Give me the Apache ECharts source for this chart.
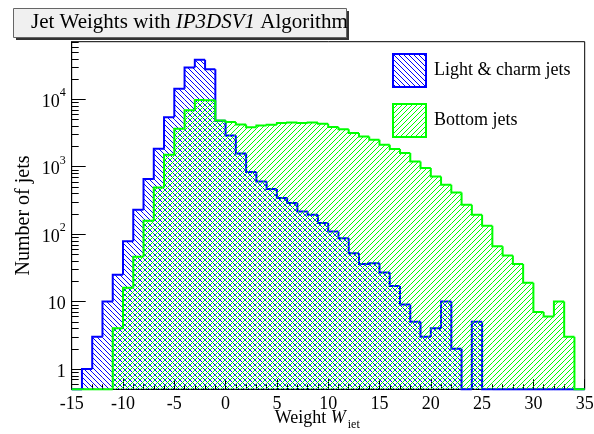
<!DOCTYPE html>
<html><head><meta charset="utf-8">
<script src="https://cdn.jsdelivr.net/npm/echarts@6/dist/echarts.min.js"></script>
<style>html,body{margin:0;padding:0;background:#fff}#c{width:594px;height:434px}</style>
</head><body><div id="c"></div>
<script>
// ---- data ----
const binLow = [-15,-14,-13,-12,-11,-10,-9,-8,-7,-6,-5,-4,-3,-2,-1,0,1,2,3,4,5,6,7,8,9,10,11,12,13,14,15,16,17,18,19,20,21,22,23,24,25,26,27,28,29,30,31,32,33,34];
const binHigh = [-14,-13,-12,-11,-10,-9,-8,-7,-6,-5,-4,-3,-2,-1,0,1,2,3,4,5,6,7,8,9,10,11,12,13,14,15,16,17,18,19,20,21,22,23,24,25,26,27,28,29,30,31,32,33,34,35];
const lightCharmJets = [0,1,3,10,25,78,229,653,1836,5410,14200,29400,38200,27800,4770,2900,1560,830,600,464,341,288,216,193,146,109,87,52,36,37,27,17,9,5,3,4,10,2,0,5,0,0,0,0,0,0,0,0,0,0];
const bottomJets = [0,0,0,0,4,16,46,157,490,1500,3650,6850,9700,9600,4820,4580,4200,3830,4060,4160,4410,4500,4410,4500,4300,3850,3590,3140,2790,2500,2100,1816,1585,1190,950,713,537,413,272,193,133,66,48,36,19,7,6,10,3,0];
const seriesNames = ['Light & charm jets', 'Bottom jets'];
const xTickLabels = [-15,-10,-5,0,5,10,15,20,25,30,35];
const yMajorTicks = [1,10,100,1000,10000];
const yMinorTicks = [0.6,0.7,0.8,0.9,2,3,4,5,6,7,8,9,20,30,40,50,60,70,80,90,200,300,400,500,600,700,800,900,2000,3000,4000,5000,6000,7000,8000,9000,20000,30000,40000,50000,60000,70000];

// ---- style ----
const SERIF = '"Liberation Serif","DejaVu Serif",serif';
const BLUE = '#0000ff', GREEN = '#00ff00';
const X_MIN = -15, X_MAX = 35, Y_MIN = 0.5, Y_MAX = 71000;

function hatch(color, rising, p) {
  const c = document.createElement('canvas');
  c.width = p; c.height = p;
  const g = c.getContext('2d');
  g.fillStyle = color;
  for (let i = 0; i < p; i++) g.fillRect(i, rising ? p - 1 - i : i, 1, 1);
  return { image: c, repeat: 'repeat' };
}
const bluePat = hatch(BLUE, false, 5);
const greenPat = hatch(GREEN, true, 5);

function histRender(values, lineColor, pat) {
  return function (params, api) {
    const i = params.dataIndex;
    const x0 = api.value(0), x1 = api.value(1);
    const v = Math.max(api.value(2), Y_MIN);
    const pv = i > 0 ? Math.max(values[i - 1], Y_MIN) : Y_MIN;
    const pB = api.coord([x0, Y_MIN]);
    const pT = api.coord([x1, v]);
    const pP = api.coord([x0, pv]);
    const ch = [];
    if (pB[1] - pT[1] > 0.5) {
      ch.push({ type: 'rect', shape: { x: pB[0], y: pT[1], width: pT[0] - pB[0], height: pB[1] - pT[1] }, style: { fill: pat } });
    }
    const pts = [[pB[0], pP[1]], [pB[0], pT[1]], [pT[0], pT[1]]];
    if (i === values.length - 1) pts.push([pT[0], pB[1]]);
    ch.push({ type: 'polyline', shape: { points: pts }, style: { stroke: lineColor, lineWidth: 2, fill: null, lineJoin: 'miter' } });
    return { type: 'group', children: ch };
  };
}

const chart = echarts.init(document.getElementById('c'), null, { renderer: 'canvas' });
chart.setOption({
  animation: false,
  backgroundColor: '#fff',
  title: {
    text: '{n|Jet Weights with }{i|IP3DSV1}{n| Algorithm}',
    left: 31, top: 12, z: 10, padding: 0,
    textStyle: { fontWeight: 'normal', rich: {
      n: { fontFamily: SERIF, fontSize: 21, color: '#000', fontWeight: 'normal' },
      i: { fontFamily: SERIF, fontSize: 21, color: '#000', fontStyle: 'italic', fontWeight: 'normal' }
    } }
  },
  graphic: [
    { type: 'rect', z: 1, shape: { x: 16, y: 11, width: 333, height: 29 }, style: { fill: '#333' } },
    { type: 'rect', z: 2, shape: { x: 13.5, y: 8.5, width: 333, height: 29 }, style: { fill: '#f0f0f0', stroke: '#666', lineWidth: 1 } }
  ],
  legend: {
    orient: 'vertical', left: 392, top: 53, padding: 0, itemWidth: 33, itemHeight: 33, itemGap: 15,
    selectedMode: false,
    textStyle: { fontFamily: SERIF, fontSize: 18, color: '#000', padding: [0, 0, 0, 3] },
    data: [
      { name: seriesNames[0], icon: 'rect', itemStyle: { color: bluePat, borderColor: BLUE, borderWidth: 2 } },
      { name: seriesNames[1], icon: 'rect', itemStyle: { color: greenPat, borderColor: GREEN, borderWidth: 2 } }
    ]
  },
  grid: { left: 71.7, right: 9.3, top: 41.7, bottom: 44.7, show: true, borderColor: '#000', borderWidth: 1, backgroundColor: 'transparent', outerBoundsMode: 'none' },
  xAxis: {
    type: 'value', min: X_MIN, max: X_MAX, interval: 5,
    axisLine: { show: true, onZero: false, lineStyle: { color: '#000', width: 1 } },
    axisTick: { show: true, inside: true, length: 10, lineStyle: { color: '#000' } },
    minorTick: { show: true, splitNumber: 5, length: 5, lineStyle: { color: '#000' } },
    splitLine: { show: false },
    axisLabel: { margin: 6, fontFamily: SERIF, fontSize: 18, color: '#000',
      formatter: v => (xTickLabels.indexOf(v) >= 0 ? String(v) : '') },
    name: '{a|Weight }{w|W}{s|iet}',
    nameLocation: 'middle', nameGap: 18, nameMoveOverlap: false,
    nameTextStyle: { padding: [0, 22, 0, 0], rich: {
      a: { fontFamily: SERIF, fontSize: 18, color: '#000', lineHeight: 20, verticalAlign: 'bottom' },
      w: { fontFamily: SERIF, fontSize: 18, color: '#000', fontStyle: 'italic', lineHeight: 20, verticalAlign: 'bottom' },
      s: { fontFamily: SERIF, fontSize: 12, color: '#000', lineHeight: 12, verticalAlign: 'bottom', padding: [0, 0, -4, 2] }
    } }
  },
  yAxis: {
    type: 'log', logBase: 10, min: Y_MIN, max: Y_MAX,
    axisLine: { show: true, onZero: false, lineStyle: { color: '#000', width: 1 } },
    axisTick: { show: true, inside: true, length: 14, lineStyle: { color: '#000' } },
    splitLine: { show: false },
    axisLabel: { margin: 6, showMinLabel: false, showMaxLabel: false,
      formatter: function (v) {
        const e = Math.round(Math.log10(v));
        if (Math.abs(Math.log10(v) - e) > 1e-6 || yMajorTicks.indexOf(Math.pow(10, e)) < 0) return '';
        if (e === 0) return '{b|1}';
        if (e === 1) return '{b|10}';
        return '{b|10}{s|' + e + '}';
      },
      rich: {
        b: { fontFamily: SERIF, fontSize: 18, color: '#000', lineHeight: 24, verticalAlign: 'bottom' },
        s: { fontFamily: SERIF, fontSize: 12, color: '#000', lineHeight: 12, verticalAlign: 'top' }
      }
    },
    name: 'Number of jets', nameLocation: 'middle', nameGap: 38, nameRotate: 90, nameMoveOverlap: false,
    nameTextStyle: { fontFamily: SERIF, fontSize: 20, color: '#000' }
  },
  series: [
    {
      name: seriesNames[0], type: 'custom', coordinateSystem: 'cartesian2d', clip: false,
      itemStyle: { color: bluePat, borderColor: BLUE, borderWidth: 2 },
      encode: { x: [0, 1], y: 2 },
      data: binLow.map((b, i) => [b, binHigh[i], lightCharmJets[i]]),
      renderItem: histRender(lightCharmJets, BLUE, bluePat)
    },
    {
      name: seriesNames[1], type: 'custom', coordinateSystem: 'cartesian2d', clip: false,
      itemStyle: { color: greenPat, borderColor: GREEN, borderWidth: 2 },
      encode: { x: [0, 1], y: 2 },
      data: binLow.map((b, i) => [b, binHigh[i], bottomJets[i]]),
      renderItem: histRender(bottomJets, GREEN, greenPat)
    },
    {
      name: 'minor', type: 'custom', coordinateSystem: 'cartesian2d', silent: true,
      encode: { x: 0, y: 1 },
      data: yMinorTicks.map(v => [X_MIN, v]),
      renderItem: function (params, api) {
        const p = api.coord([api.value(0), api.value(1)]);
        const y = Math.round(p[1]) + 0.5;
        return { type: 'line', shape: { x1: p[0], y1: y, x2: p[0] + 7, y2: y }, style: { stroke: '#000', lineWidth: 1 } };
      }
    }
  ]
});
</script>
</body></html>
